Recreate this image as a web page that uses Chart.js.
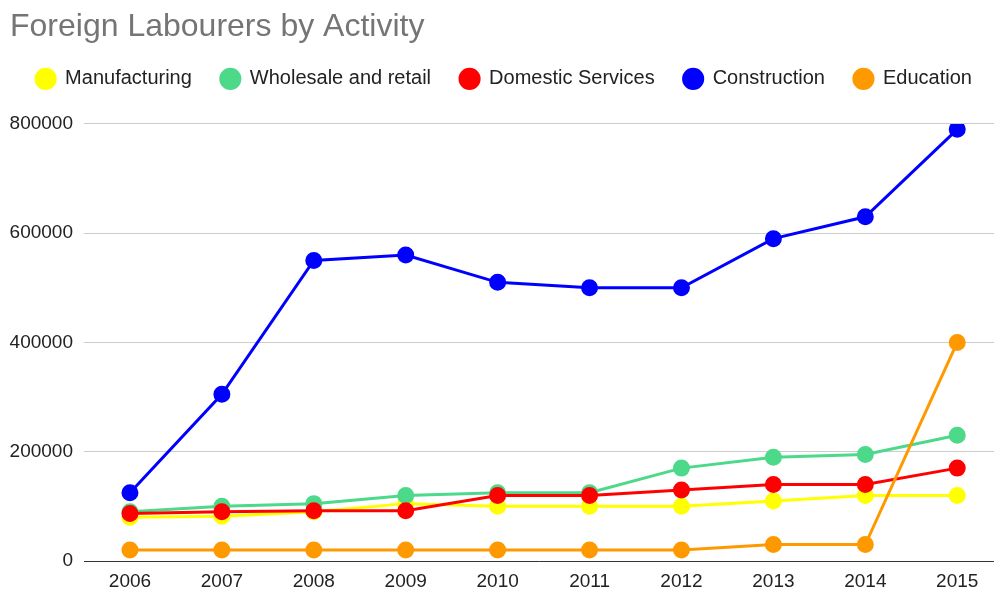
<!DOCTYPE html>
<html>
<head>
<meta charset="utf-8">
<script src="https://cdn.jsdelivr.net/npm/chart.js@4/dist/chart.umd.min.js"></script>
<style>
  body { margin: 0; background: #fff; }
  #wrap { width: 994px; height: 594px; }
</style>
</head>
<body>
<div id="wrap"><canvas id="laboursChart"></canvas></div>
<script>
  // data
  const years = [2006, 2007, 2008, 2009, 2010, 2011, 2012, 2013, 2014, 2015];
  const manufacturing = [80000, 82000, 90000, 105000, 100000, 100000, 100000, 110000, 120000, 120000];
  const wholesale = [90000, 100000, 105000, 120000, 125000, 125000, 170000, 190000, 195000, 230000];
  const domestic = [87000, 90000, 92000, 92000, 120000, 120000, 130000, 140000, 140000, 170000];
  const construction = [125000, 305000, 550000, 560000, 510000, 500000, 500000, 590000, 630000, 790000];
  const education = [20000, 20000, 20000, 20000, 20000, 20000, 20000, 30000, 30000, 400000];
  const yTicks = [0, 200000, 400000, 600000, 800000];

  const series = [
    { label: 'Manufacturing', data: manufacturing, color: '#ffff00' },
    { label: 'Wholesale and retail', data: wholesale, color: '#4cd98a' },
    { label: 'Domestic Services', data: domestic, color: '#ff0000' },
    { label: 'Construction', data: construction, color: '#0000ff' },
    { label: 'Education', data: education, color: '#ff9900' }
  ];

  const font = 'Liberation Sans, Arial, sans-serif';

  // small position tweaks: title in from the left edge, legend a bit to the right
  const nudge = {
    id: 'nudge',
    afterLayout(chart) {
      chart.titleBlock.left = 10;
      chart.legend.left += 7;
      chart.legend.right += 7;
    }
  };

  new Chart(document.getElementById('laboursChart'), {
    type: 'line',
    data: {
      datasets: series.map((s, i) => ({
        label: s.label,
        data: years.map((yr, k) => ({ x: yr, y: s.data[k] })),
        borderColor: s.color,
        backgroundColor: s.color,
        pointBackgroundColor: s.color,
        pointBorderColor: s.color,
        borderWidth: 3,
        pointRadius: 7,
        pointHoverRadius: 7,
        order: series.length - i // later series drawn on top
      }))
    },
    plugins: [nudge],
    options: {
      responsive: true,
      maintainAspectRatio: false,
      animation: false,
      events: [],
      layout: { padding: 0, autoPadding: false },
      plugins: {
        title: {
          display: true,
          text: 'Foreign Labourers by Activity',
          align: 'start',
          color: '#757575',
          font: { family: font, size: 32, weight: 'normal' },
          padding: { top: 8, bottom: -6.5 }
        },
        // empty spacer between legend and plot
        subtitle: {
          display: true,
          text: '',
          weight: 500,
          font: { size: 10 },
          padding: { top: 0, bottom: 13 }
        },
        legend: {
          labels: {
            usePointStyle: true,
            pointStyle: 'circle',
            boxWidth: 19,
            boxHeight: 13.5,
            padding: 29,
            color: '#222',
            font: { family: font, size: 20 },
            sort: (a, b) => a.datasetIndex - b.datasetIndex
          }
        },
        tooltip: { enabled: false }
      },
      scales: {
        x: {
          type: 'linear',
          min: 2005.5,
          max: 2015.4,
          afterBuildTicks: axis => { axis.ticks = years.map(v => ({ value: v })); },
          afterFit: axis => { axis.height = 33; },
          grid: { display: false, drawTicks: false },
          border: { color: '#333', width: 1 },
          ticks: {
            color: '#222',
            font: { family: font, size: 19 },
            padding: 9,
            callback: v => String(v)
          }
        },
        y: {
          min: 0,
          max: 800000,
          afterBuildTicks: axis => { axis.ticks = yTicks.map(v => ({ value: v })); },
          afterFit: axis => { axis.width = 84; },
          grid: { color: '#cccccc', drawTicks: false },
          border: { display: false },
          ticks: {
            color: '#222',
            font: { family: font, size: 19 },
            padding: 11,
            callback: v => String(v)
          }
        }
      }
    }
  });
</script>
</body>
</html>
